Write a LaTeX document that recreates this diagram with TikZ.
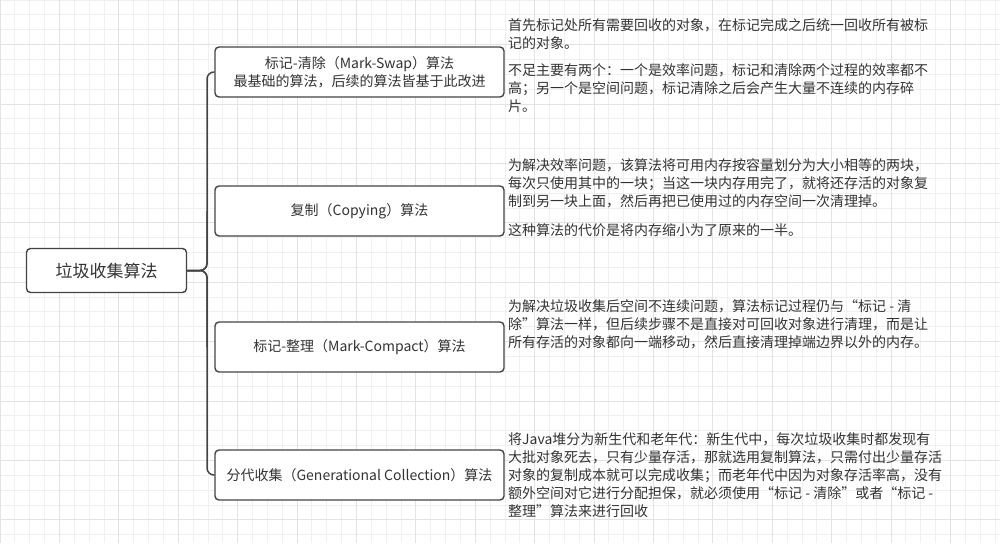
\documentclass[tikz,border=0pt]{standalone}
\usepackage{fontspec}
\newfontfamily\cjk{Noto Sans CJK SC}
\definecolor{ink}{HTML}{333333}
\definecolor{edge}{HTML}{444444}
\tikzset{
  minorgrid/.style={draw=black!6, line width=0.8pt},
  majorgrid/.style={draw=black!11, line width=0.9pt},
  box/.style={draw=edge, line width=1.4pt, rounded corners=4pt, fill=white, text=ink, font=\cjk\fontsize{14}{18}\selectfont, align=center, inner sep=0pt},
  rootbox/.style={box, minimum width=160pt, minimum height=44pt, font=\cjk\fontsize{17}{20}\selectfont},
  branchbox/.style={box, minimum width=289pt, minimum height=50pt},
  note/.style={text=ink, font=\cjk\fontsize{14}{18}\selectfont, align=left, inner sep=0pt, anchor=base west},
  conn/.style={draw=edge, line width=1.5pt, rounded corners=7pt}
}
\begin{document}
\begin{tikzpicture}[x=1pt,y=-1pt]
\useasboundingbox (0,0) rectangle (1000,543);
\clip (0,0) rectangle (1000,543);
\fill[white] (0,0) rectangle (1000,543);
% grid
\foreach \i in {0,...,68} \draw[minorgrid] (\i*14.85,0) -- (\i*14.85,543);
\foreach \i in {0,...,37} \draw[minorgrid] (0,\i*14.85) -- (1000,\i*14.85);
\foreach \i in {0,...,16} \draw[majorgrid] (\i*59.4,0) -- (\i*59.4,543);
\foreach \i in {0,...,8} \draw[majorgrid] (0,44.55+\i*59.4) -- (1000,44.55+\i*59.4);

% nodes
\node[rootbox] (root) at (106.5,270.5) {垃圾收集算法};
\node[branchbox] (b1) at (359.5,72) {标记-清除（Mark-Swap）算法\\最基础的算法，后续的算法皆基于此改进};
\node[branchbox] (b2) at (359.5,211) {复制（Copying）算法};
\node[branchbox] (b3) at (359.5,347) {标记-整理（Mark-Compact）算法};
\node[branchbox] (b4) at (359.5,475) {分代收集（Generational Collection）算法};

\coordinate (spine) at (207,270.5);
\coordinate (s2) at (207,211);
\coordinate (s3) at (207,347);

% connectors
\draw[conn] (root.east) -- (spine) |- (b1.west);
\draw[conn] (root.east) -- (spine) |- (b4.west);
\draw[conn] (root.east) -- (spine) -- (s2);
\draw[conn] (root.east) -- (spine) -- (s3);

% notes (anchored at the baseline of their last line)
\node[note] (n1) at (508,111.3) {首先标记处所有需要回收的对象，在标记完成之后统一回收所有被标\\记的对象。\\[9pt]不足主要有两个：一个是效率问题，标记和清除两个过程的效率都不\\高；另一个是空间问题，标记清除之后会产生大量不连续的内存碎\\片。};
\node[note] (n2) at (508,235.3) {为解决效率问题，该算法将可用内存按容量划分为大小相等的两块，\\每次只使用其中的一块；当这一块内存用完了，就将还存活的对象复\\制到另一块上面，然后再把已使用过的内存空间一次清理掉。\\[10.5pt]这种算法的代价是将内存缩小为了原来的一半。};
\node[note] (n3) at (508,347.3) {为解决垃圾收集后空间不连续问题，算法标记过程仍与“标记 - 清\\除”算法一样，但后续步骤不是直接对可回收对象进行清理，而是让\\所有存活的对象都向一端移动，然后直接清理掉端边界以外的内存。};
\node[note] (n4) at (508,516.3) {将Java堆分为新生代和老年代：新生代中，每次垃圾收集时都发现有\\大批对象死去，只有少量存活，那就选用复制算法，只需付出少量存活\\对象的复制成本就可以完成收集；而老年代中因为对象存活率高，没有\\额外空间对它进行分配担保，就必须使用“标记 - 清除”或者“标记 -\\整理”算法来进行回收};
\end{tikzpicture}
\end{document}
